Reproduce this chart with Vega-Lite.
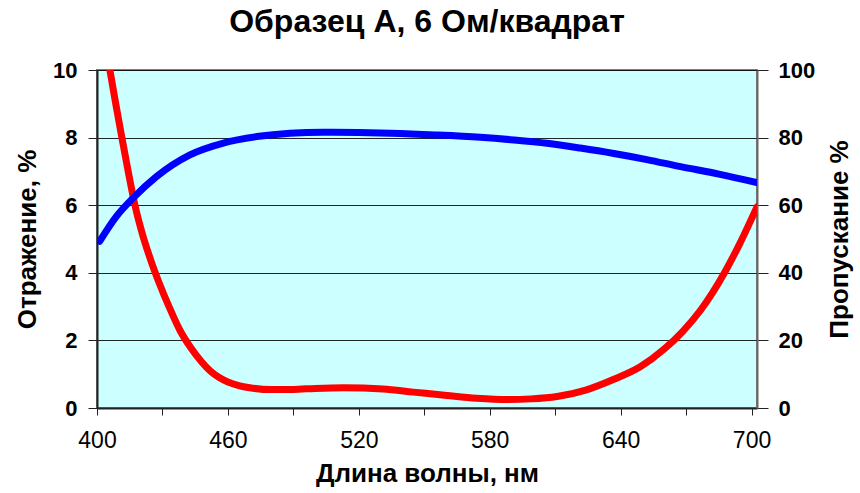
{
  "$schema": "https://vega.github.io/schema/vega-lite/v6.json",
  "width": 660,
  "height": 338,
  "autosize": "none",
  "padding": {"left": 97, "top": 70, "right": 103, "bottom": 85},
  "background": "white",
  "title": {
    "text": "Образец А, 6 Ом/квадрат",
    "font": "Liberation Sans",
    "fontSize": 32,
    "fontWeight": "bold",
    "color": "black",
    "anchor": "middle",
    "offset": 20
  },
  "config": {
    "view": {"fill": "#CCFFFF", "stroke": "#808080", "strokeWidth": 2},
    "axis": {
      "labelFont": "Liberation Sans",
      "titleFont": "Liberation Sans",
      "labelColor": "black",
      "titleColor": "black",
      "domainColor": "#222222",
      "tickColor": "#222222"
    }
  },
  "datasets": {
    "refl": [
      {"wl": 405.9, "r": 10.0},
      {"wl": 408.6, "r": 9.0},
      {"wl": 411.4, "r": 8.0},
      {"wl": 414.3, "r": 7.0},
      {"wl": 417.4, "r": 6.0},
      {"wl": 420.8, "r": 5.15},
      {"wl": 424.5, "r": 4.4},
      {"wl": 428.5, "r": 3.7},
      {"wl": 433.0, "r": 3.0},
      {"wl": 438.0, "r": 2.3},
      {"wl": 443.0, "r": 1.78},
      {"wl": 448.0, "r": 1.36},
      {"wl": 452.0, "r": 1.09},
      {"wl": 456.0, "r": 0.9},
      {"wl": 460.0, "r": 0.77},
      {"wl": 465.0, "r": 0.665},
      {"wl": 470.0, "r": 0.6},
      {"wl": 480.0, "r": 0.545},
      {"wl": 490.0, "r": 0.55},
      {"wl": 500.0, "r": 0.58},
      {"wl": 513.0, "r": 0.6},
      {"wl": 522.0, "r": 0.59},
      {"wl": 531.0, "r": 0.56},
      {"wl": 545.0, "r": 0.47},
      {"wl": 560.4, "r": 0.37},
      {"wl": 574.0, "r": 0.29},
      {"wl": 588.0, "r": 0.25},
      {"wl": 599.0, "r": 0.27},
      {"wl": 610.9, "r": 0.34},
      {"wl": 624.0, "r": 0.53},
      {"wl": 636.9, "r": 0.85},
      {"wl": 649.0, "r": 1.22},
      {"wl": 659.9, "r": 1.74},
      {"wl": 668.5, "r": 2.27},
      {"wl": 676.7, "r": 2.9},
      {"wl": 687.4, "r": 3.98},
      {"wl": 694.5, "r": 4.85},
      {"wl": 702.5, "r": 5.95}
    ],
    "trans": [
      {"wl": 401.2, "t": 49.3},
      {"wl": 408.9, "t": 56.7},
      {"wl": 416.5, "t": 62.1},
      {"wl": 427.3, "t": 68.5},
      {"wl": 442.6, "t": 74.9},
      {"wl": 457.9, "t": 78.4},
      {"wl": 473.2, "t": 80.3},
      {"wl": 488.5, "t": 81.3},
      {"wl": 503.6, "t": 81.6},
      {"wl": 520.0, "t": 81.5},
      {"wl": 534.4, "t": 81.3},
      {"wl": 555.0, "t": 80.8},
      {"wl": 575.7, "t": 80.1},
      {"wl": 591.0, "t": 79.3},
      {"wl": 606.3, "t": 78.3},
      {"wl": 621.5, "t": 76.9},
      {"wl": 636.9, "t": 75.3},
      {"wl": 652.0, "t": 73.5},
      {"wl": 667.5, "t": 71.4},
      {"wl": 685.0, "t": 69.2},
      {"wl": 702.5, "t": 66.7}
    ]
  },
  "layer": [
    {
      "data": {"name": "refl"},
      "mark": {"type": "line", "color": "#FF0000", "strokeWidth": 7, "interpolate": "monotone", "strokeCap": "round", "clip": true},
      "encoding": {
        "x": {
          "field": "wl", "type": "quantitative",
          "scale": {"domain": [400, 702.5], "nice": false, "zero": false},
          "axis": {
            "title": "Длина волны, нм",
            "titleFontSize": 26, "titleFontWeight": "bold", "titlePadding": 8,
            "values": [400, 430, 460, 490, 520, 550, 580, 610, 640, 670, 700],
            "labelExpr": "datum.value % 60 == 40 ? datum.label : ''",
            "labelFontSize": 23, "labelFontWeight": "normal", "labelPadding": 14,
            "tickSize": 7, "domainWidth": 2, "grid": false, "labelFlush": false, "labelOverlap": false
          }
        },
        "y": {
          "field": "r", "type": "quantitative",
          "scale": {"domain": [0, 10], "nice": false},
          "axis": {
            "title": "Отражение, %",
            "titleFontSize": 26, "titleFontWeight": "bold", "titlePadding": 12,
            "values": [0, 2, 4, 6, 8, 10],
            "labelFontSize": 22, "labelFontWeight": "bold", "labelPadding": 11,
            "tickSize": 9, "domainWidth": 2,
            "grid": true, "gridColor": "black", "gridWidth": 1, "gridOpacity": 0.85
          }
        }
      }
    },
    {
      "data": {"name": "trans"},
      "mark": {"type": "line", "color": "#0000FF", "strokeWidth": 7, "interpolate": "monotone", "strokeCap": "round", "clip": true},
      "encoding": {
        "x": {"field": "wl", "type": "quantitative"},
        "y": {
          "field": "t", "type": "quantitative",
          "scale": {"domain": [0, 100], "nice": false},
          "axis": {
            "orient": "right",
            "title": "Пропускание %",
            "titleAngle": 270,
            "titleBaseline": "top",
            "titleFontSize": 26, "titleFontWeight": "bold", "titlePadding": 12,
            "values": [0, 20, 40, 60, 80, 100],
            "labelFontSize": 22, "labelFontWeight": "bold", "labelPadding": 10,
            "tickSize": 11, "domainWidth": 2, "domainColor": "#666666", "grid": false
          }
        }
      }
    }
  ],
  "resolve": {"scale": {"y": "independent"}}
}
